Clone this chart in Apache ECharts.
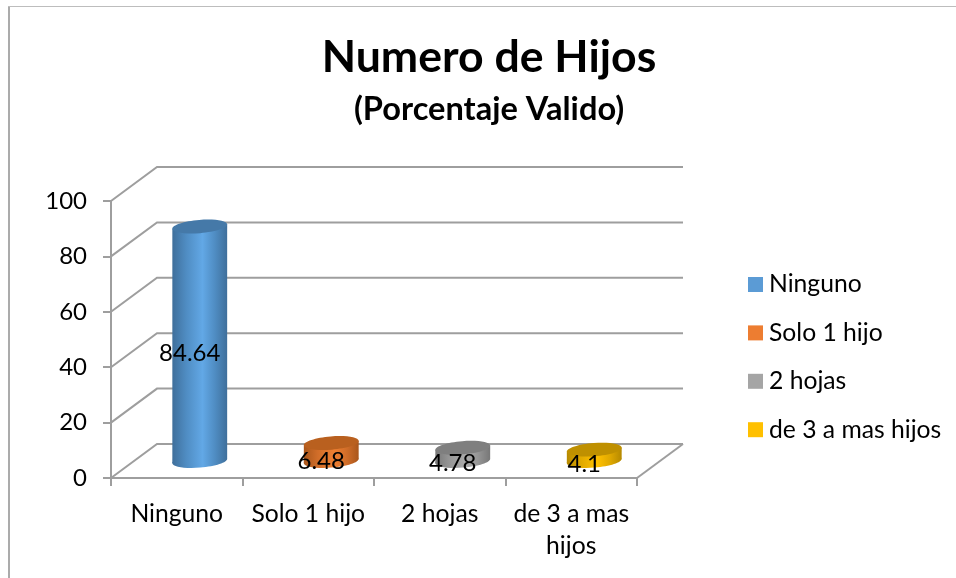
<!DOCTYPE html>
<html>
<head>
<meta charset="utf-8">
<style>html,body{margin:0;padding:0;background:#fff}#c{width:956px;height:578px}</style>
<script src="https://cdn.jsdelivr.net/npm/echarts@6/dist/echarts.min.js"></script>
</head>
<body>
<div id="c"></div>
<script>
const categories = ['Ninguno', 'Solo 1 hijo', '2 hojas', 'de 3 a mas hijos'];
const xTickLabels = ['Ninguno', 'Solo 1 hijo', '2 hojas', 'de 3 a mas\nhijos'];
const values = [84.64, 6.48, 4.78, 4.1];
const yTicks = [0, 20, 40, 60, 80, 100];
const topColors = ['#4579A8', '#B9601F', '#7F7F7F', '#BF9000'];
const edgeColors = ['#3F6F9B', '#A9561B', '#777777', '#B58900'];
const shoulderColors = ['#4F8CC2', '#D06D29', '#959595', '#E0A900'];
const midColors = ['#62A8E6', '#EE7F32', '#ABABAB', '#FFC000'];
const legendColors = ['#5B9BD5', '#ED7D31', '#A5A5A5', '#FFC000'];
const FONT = 'Lato, Carlito, Calibri, sans-serif';
const DEPTH_X = 46, DEPTH_Y = 34;
const LINE = '#9E9E9E';

function wallItem(params, api) {
  const cs = params.coordSys;
  const tick = api.value(1);
  const y = api.coord([0, tick])[1];
  const l = cs.x, r = cs.x + cs.width;
  const style = { stroke: LINE, lineWidth: 2, fill: null };
  const children = [{
    type: 'polyline',
    shape: { points: [[l, y], [l + DEPTH_X, y - DEPTH_Y], [r + DEPTH_X, y - DEPTH_Y]] },
    style
  }];
  if (tick === 0) {
    children.push({ type: 'line', shape: { x1: r, y1: y, x2: r + DEPTH_X, y2: y - DEPTH_Y }, style });
  }
  return { type: 'group', children };
}

function cylinderItem(i) {
  return function (params, api) {
    const idx = api.value(0), val = api.value(1);
    const front0 = api.coord([idx, 0]);
    const frontV = api.coord([idx, val]);
    const cx = front0[0] + DEPTH_X / 2;
    const by = front0[1] - DEPTH_Y / 2;
    const ty = frontV[1] - DEPTH_Y / 2;
    const rx = 27.5, ry = 6.6, rot = 0.08;
    const dx = rx * Math.cos(rot), dy = rx * Math.sin(rot);
    const grad = new echarts.graphic.LinearGradient(cx - rx, 0, cx + rx, 0, [
      { offset: 0, color: edgeColors[i] },
      { offset: 0.25, color: shoulderColors[i] },
      { offset: 0.55, color: midColors[i] },
      { offset: 0.78, color: shoulderColors[i] },
      { offset: 1, color: edgeColors[i] }
    ], true);
    return {
      type: 'group',
      children: [
        { type: 'ellipse', originX: cx, originY: by, rotation: rot, shape: { cx, cy: by, rx, ry }, style: { fill: grad } },
        { type: 'polygon', shape: { points: [[cx - dx, ty + dy], [cx + dx, ty - dy], [cx + dx, by - dy], [cx - dx, by + dy]] }, style: { fill: grad } },
        { type: 'ellipse', originX: cx, originY: ty, rotation: rot, shape: { cx, cy: ty, rx, ry }, style: { fill: topColors[i] } },
        { type: 'text', z2: 100, x: front0[0] + 13, y: (front0[1] + frontV[1]) / 2 - 8,
          style: { text: String(val), font: '24px ' + FONT, fill: '#000', align: 'center', verticalAlign: 'middle' } }
      ]
    };
  };
}

const series = [{
  type: 'custom',
  name: 'wall',
  silent: true,
  z: 1,
  clip: false,
  renderItem: wallItem,
  encode: { x: 0, y: 1 },
  data: yTicks.map(t => [0, t])
}];
categories.forEach((c, i) => {
  series.push({
    type: 'custom',
    name: c,
    z: 3 + i,
    clip: false,
    renderItem: cylinderItem(i),
    encode: { x: 0, y: 1 },
    itemStyle: { color: legendColors[i] },
    data: [[i, values[i]]]
  });
});

const chart = echarts.init(document.getElementById('c'), null, { renderer: 'canvas' });
chart.setOption({
  animation: false,
  backgroundColor: '#fff',
  color: legendColors,
  title: {
    text: 'Numero de Hijos',
    subtext: '(Porcentaje Valido)',
    left: 484, top: 30, textAlign: 'center',
    textStyle: { fontFamily: FONT, fontSize: 44.6, fontWeight: 'bold', color: '#000' },
    subtextStyle: { fontFamily: FONT, fontSize: 32.6, fontWeight: 'bold', color: '#000' },
    itemGap: 13
  },
  legend: {
    data: categories,
    orient: 'vertical',
    left: 748, top: 272,
    padding: 0,
    itemWidth: 15, itemHeight: 15,
    itemGap: 23.4,
    icon: 'rect',
    textStyle: { fontFamily: FONT, fontSize: 24.7, color: '#000', padding: [0, 0, 0, 1], lineHeight: 24 }
  },
  grid: { left: 111, right: 319, top: 201, bottom: 100 },
  xAxis: {
    type: 'category',
    data: categories,
    boundaryGap: true,
    axisLine: { show: true, lineStyle: { color: LINE, width: 2 } },
    axisTick: { show: true, length: 8, alignWithLabel: false, lineStyle: { color: LINE, width: 2 } },
    axisLabel: { interval: 0, margin: 20, fontFamily: FONT, fontSize: 24.7, color: '#000', lineHeight: 32,
      formatter: (v, i) => xTickLabels[i] },
    splitLine: { show: false }
  },
  yAxis: {
    type: 'value', min: 0, max: 100, interval: 20,
    axisLine: { show: true, lineStyle: { color: LINE, width: 2 } },
    axisTick: { show: true, length: 8, lineStyle: { color: LINE, width: 2 } },
    axisLabel: { margin: 24, fontFamily: FONT, fontSize: 24, color: '#000', padding: [3, 0, 0, 0] },
    splitLine: { show: false }
  },
  graphic: [
    { type: 'line', silent: true, shape: { x1: 9, y1: 6, x2: 9, y2: 578 }, style: { stroke: '#ABABAB', lineWidth: 2 } },
    { type: 'line', silent: true, shape: { x1: 8, y1: 6.5, x2: 956, y2: 6.5 }, style: { stroke: '#BDBDBD', lineWidth: 1 } }
  ],
  series
});
</script>
</body>
</html>
